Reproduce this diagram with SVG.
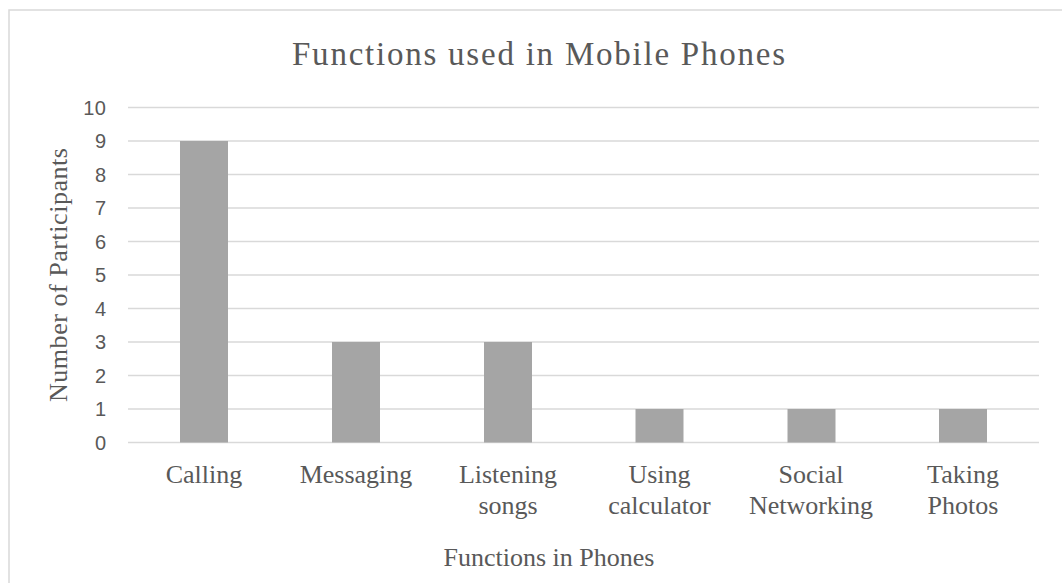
<svg xmlns="http://www.w3.org/2000/svg" width="1062" height="583" viewBox="0 0 1062 583">
  <style>
    .grid { stroke: #d9d9d9; stroke-width: 1.5; fill: none; }
    .bar { fill: #a5a5a5; }
    .tick { font-family: "Liberation Sans", Arial, sans-serif; font-size: 20px; fill: #595959; text-anchor: end; letter-spacing: 0.5px; }
    .cat { font-family: "Liberation Serif", "Times New Roman", serif; font-size: 26px; fill: #595959; text-anchor: middle; }
    .title { font-family: "Liberation Serif", "Times New Roman", serif; font-size: 33px; fill: #595959; text-anchor: middle; }
    .axis { font-family: "Liberation Serif", "Times New Roman", serif; font-size: 26px; fill: #595959; text-anchor: middle; }
  </style>
  <rect x="0" y="0" width="1062" height="583" fill="#ffffff"/>
  <rect x="9" y="10" width="1100" height="620" fill="#ffffff" stroke="#d9d9d9" stroke-width="1.5"/>

  <text class="title" x="538.5" y="65" textLength="493" lengthAdjust="spacing">Functions used in Mobile Phones</text>

  <g id="gridlines">
    <line class="grid" x1="128" y1="107.5" x2="1039" y2="107.5"/>
    <line class="grid" x1="128" y1="141" x2="1039" y2="141"/>
    <line class="grid" x1="128" y1="174.5" x2="1039" y2="174.5"/>
    <line class="grid" x1="128" y1="208" x2="1039" y2="208"/>
    <line class="grid" x1="128" y1="241.5" x2="1039" y2="241.5"/>
    <line class="grid" x1="128" y1="275" x2="1039" y2="275"/>
    <line class="grid" x1="128" y1="308.5" x2="1039" y2="308.5"/>
    <line class="grid" x1="128" y1="342" x2="1039" y2="342"/>
    <line class="grid" x1="128" y1="375.5" x2="1039" y2="375.5"/>
    <line class="grid" x1="128" y1="409" x2="1039" y2="409"/>
    <line class="grid" x1="128" y1="442.5" x2="1039" y2="442.5"/>
  </g>

  <g id="y-ticks">
    <text class="tick" x="106.5" y="114.5">10</text>
    <text class="tick" x="106.5" y="148">9</text>
    <text class="tick" x="106.5" y="181.5">8</text>
    <text class="tick" x="106.5" y="215">7</text>
    <text class="tick" x="106.5" y="248.5">6</text>
    <text class="tick" x="106.5" y="282">5</text>
    <text class="tick" x="106.5" y="315.5">4</text>
    <text class="tick" x="106.5" y="349">3</text>
    <text class="tick" x="106.5" y="382.5">2</text>
    <text class="tick" x="106.5" y="416">1</text>
    <text class="tick" x="106.5" y="449.5">0</text>
  </g>

  <g id="bars">
    <rect class="bar" x="180" y="141" width="48" height="301.5"/>
    <rect class="bar" x="332" y="342" width="48" height="100.5"/>
    <rect class="bar" x="484" y="342" width="48" height="100.5"/>
    <rect class="bar" x="635.5" y="409" width="48" height="33.5"/>
    <rect class="bar" x="787.5" y="409" width="48" height="33.5"/>
    <rect class="bar" x="939" y="409" width="48" height="33.5"/>
  </g>

  <g id="categories">
    <text class="cat" x="204" y="483">Calling</text>
    <text class="cat" x="356" y="483">Messaging</text>
    <text class="cat" x="508" y="483">Listening</text>
    <text class="cat" x="508" y="514">songs</text>
    <text class="cat" x="659.5" y="483">Using</text>
    <text class="cat" x="659.5" y="514">calculator</text>
    <text class="cat" x="811" y="483">Social</text>
    <text class="cat" x="811" y="514">Networking</text>
    <text class="cat" x="963" y="483">Taking</text>
    <text class="cat" x="963" y="514">Photos</text>
  </g>

  <text class="axis" x="549" y="566">Functions in Phones</text>
  <text class="axis" transform="translate(67,275) rotate(-90)" x="0" y="0" textLength="254" lengthAdjust="spacing">Number of Participants</text>
</svg>
